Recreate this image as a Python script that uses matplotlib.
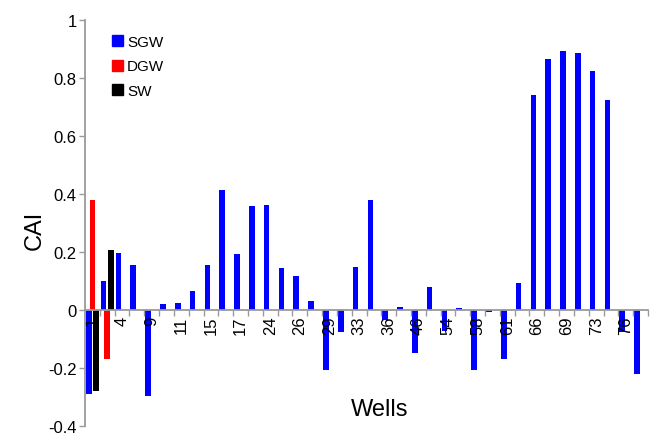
import numpy as np
import matplotlib.pyplot as plt
from matplotlib.patches import Patch

plt.rcParams['font.family'] = ['Liberation Sans', 'DejaVu Sans']

# CAI per well, one slot per well on the x axis
sgw = [-0.29, 0.10, 0.197, 0.155, -0.297, 0.02, 0.025, 0.065, 0.155, 0.415,
       0.193, 0.357, 0.362, 0.144, 0.116, 0.031, -0.207, -0.075, 0.149, 0.379,
       -0.035, 0.012, -0.148, 0.08, -0.071, 0.006, -0.207, -0.008, -0.169, 0.093,
       0.742, 0.864, 0.892, 0.885, 0.823, 0.724, -0.077, -0.221]
dgw_pos = [0, 1]
dgw = [0.38, -0.17]
sw_pos = [0, 1]
sw = [-0.28, 0.207]

tick_labels = ['1', '4', '9', '11', '15', '17', '24', '26', '29', '33',
               '36', '46', '54', '58', '61', '66', '69', '73', '76']

gray = '#9a9a9a'
w = 0.38
off = 0.24

fig = plt.figure(figsize=(6.52, 4.35), dpi=100)
ax = fig.add_axes([85 / 652, 1 - 427 / 435, 563 / 652, 406 / 435])

x = np.arange(len(sgw))
ax.bar(x - off, sgw, width=w, color='#0000ff', label='SGW')
ax.bar(np.array(dgw_pos) + 0.0, dgw, width=w, color='#ff0000', label='DGW')
ax.bar(np.array(sw_pos) + off, sw, width=w, color='#000000', label='SW')

ax.set_xlim(-0.5, len(sgw) - 0.5)
ax.set_ylim(-0.4, 1.0)

for s in ['top', 'right']:
    ax.spines[s].set_visible(False)
ax.spines['bottom'].set_position(('data', 0))
ax.spines['bottom'].set_color(gray)
ax.spines['left'].set_color(gray)
ax.spines['bottom'].set_linewidth(1.3)
ax.spines['left'].set_linewidth(1.3)

ax.set_yticks([-0.4, -0.2, 0, 0.2, 0.4, 0.6, 0.8, 1.0])
ax.set_yticklabels(['-0.4', '-0.2', '0', '0.2', '0.4', '0.6', '0.8', '1'])
ax.tick_params(axis='y', color=gray, length=4.5, width=1, pad=1.5, labelsize=12)

ax.set_xticks(np.arange(0, 2 * len(tick_labels), 2))
ax.set_xticklabels(tick_labels, rotation=90)
ax.set_xticks(np.arange(0.5, len(sgw), 1), minor=True)
ax.tick_params(axis='x', which='major', length=0, pad=4, labelsize=12)
ax.tick_params(axis='x', which='minor', color=gray, length=4, width=1)

fig.text(35 / 652, 1 - 230 / 435, 'CAI', rotation=90, fontsize=17,
         ha='center', va='center')
fig.text(380 / 652, 1 - 410 / 435, 'Wells', fontsize=17,
         ha='center', va='center')

handles = [Patch(color='#0000ff', label='SGW'),
           Patch(color='#ff0000', label='DGW'),
           Patch(color='#000000', label='SW')]
ax.legend(handles=handles, loc='upper left', bbox_to_anchor=(0.037, 0.978),
          frameon=False, fontsize=11, handlelength=0.75, handleheight=0.75,
          handletextpad=0.25, labelspacing=0.68, borderaxespad=0)

fig.savefig('out.png', dpi=100)
